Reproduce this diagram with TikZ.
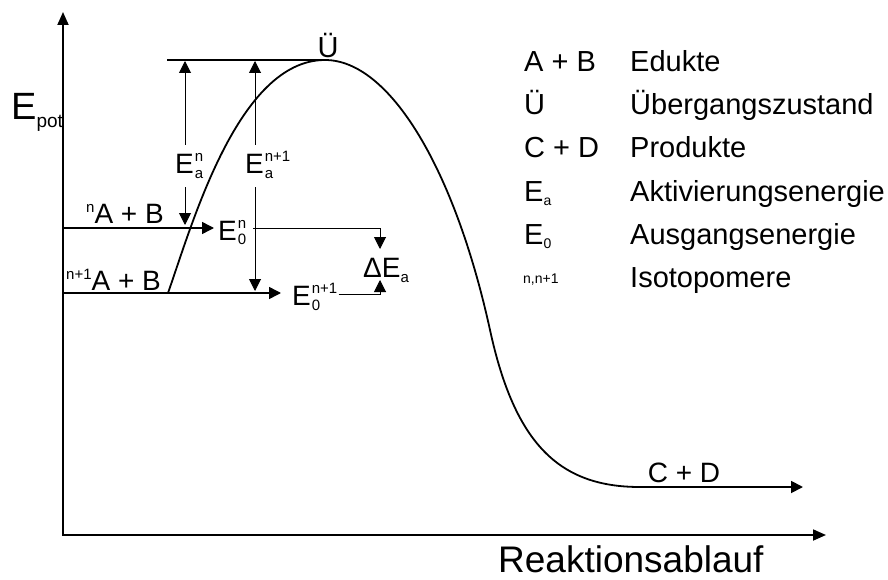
\documentclass[tikz,border=0pt]{standalone}
\usepackage{fontspec}
\setmainfont{Liberation Sans}
\usetikzlibrary{arrows.meta}

% font size helper (size = line skip)
\newcommand\fsz[1]{\fontsize{#1}{#1}\selectfont}
% stacked super-/subscript of zero width (label centred on its letter)
\newcommand\sszero[2]{\rlap{\fsz{15}\raisebox{12pt}{\smash{#1}}}\rlap{\fsz{15}\raisebox{-5pt}{\smash{#2}}}}
% stacked super-/subscript taking the width of the wider one
\newcommand\sswide[2]{\begingroup\fsz{15}\setbox0\hbox{#1}\setbox2\hbox{#2}%
  \ifdim\wd0>\wd2 \dimen0=\wd0 \else \dimen0=\wd2 \fi
  \rlap{\raisebox{12pt}{\smash{\box0}}}\rlap{\raisebox{-5pt}{\smash{\box2}}}\hspace*{\dimen0}\endgroup}

\tikzset{
  tipbig/.tip={Triangle[length=12pt,width=12pt]},
  axisln/.style={line width=1.8pt,-{Triangle[length=13pt,width=11pt]}},
  curveln/.style={line width=1.8pt},
  levelln/.style={line width=1.5pt,-tipbig},
  vertln/.style={line width=1pt,-tipbig},
  thinln/.style={line width=1pt,-tipbig},
  lbl/.style={inner sep=0pt,font=\fsz{28}},
  legkey/.style={inner sep=0pt,font=\fsz{29},anchor=base west},
}

\begin{document}
\begin{tikzpicture}[x=1pt,y=-1pt]
\useasboundingbox (0,0) rectangle (888,580);
\fill[white] (0,0) rectangle (888,580);

% axes, meeting in the origin corner
\coordinate (orig) at (63,535);
\coordinate (ytip) at (63,12);
\coordinate (xtip) at (826,535);
\draw[axisln] ([yshift=-0.9pt]orig) -- (ytip);
\draw[axisln] ([xshift=-0.9pt]orig) -- (xtip);
\node[anchor=base west,inner sep=0pt,font=\fsz{38}] (Epot) at (11,120) {E\raisebox{-8pt}{\fsz{19}pot}};
\node[anchor=base west,inner sep=0pt,font=\fsz{37}] (xlab) at (498,572) {Reaktionsablauf};

% reaction profile
\coordinate (start) at (168,293);
\coordinate (TS) at (325,60);
\coordinate (mid) at (490,330);
\coordinate (flat) at (640,487);
\coordinate (cdtip) at (803,487);
\draw[curveln,-tipbig] (start) .. controls (192,225) and (238,60) .. (TS)
  .. controls (390,60) and (455,170) .. (mid)
  .. controls (515,445) and (560,487) .. (flat) -- (cdtip);
\node[lbl,anchor=base] (CD) at (684,482) {C + D};
\node[lbl,anchor=base,font=\fsz{29}] (U) at (328,58) {Ü};
\coordinate (tsline) at (167,60);
\draw[line width=1.3pt] (tsline) -- (TS);

% starting levels of the two isotopomers
\coordinate (lvlN) at (63,228);
\coordinate (lvlN1) at (63,293);
\node[lbl,anchor=base west] (AB) at (86,223) {\raisebox{11pt}{\fsz{15}n}A + B};
\node[lbl,anchor=base west] (AB1) at (66,290) {\raisebox{11pt}{\fsz{15}n+1}A + B};

\node[lbl,anchor=base west,inner sep=1pt] (E0n) at (217,240) {E\kern1pt\sswide{n}{0}};
\node[lbl,anchor=base west,inner sep=1pt] (E0n1) at (291,305) {E\kern1pt\sswide{n+1}{0}};
\draw[levelln,shorten >=3pt] (lvlN) -- (E0n.west |- lvlN);
\draw[levelln,shorten >=10pt] (lvlN1) -- (E0n1.west |- lvlN1);

% activation energies
\node[lbl] (Ean) at (185,166) {E\kern1pt\sszero{n}{a}};
\node[lbl] (Ean1) at (255,166) {E\kern1pt\sszero{n+1}{a}};
\coordinate (topN) at (185,61);
\coordinate (botN) at (185,225);
\coordinate (topN1) at (255,61);
\coordinate (botN1) at (255,291);
\draw[vertln] ([yshift=9pt]Ean.north) -- (topN);
\draw[vertln] ([yshift=-9pt]Ean.south) -- (botN);
\draw[vertln] ([yshift=9pt]Ean1.north) -- (topN1);
\draw[vertln] ([yshift=-9pt]Ean1.south) -- (botN1);

% difference of the activation energies
\node[lbl,anchor=base west] (dEa) at (363,277) {ΔE\raisebox{-5pt}{\fsz{15}a}};
\coordinate (dN) at (380,228);
\coordinate (dNtip) at (380,249);
\coordinate (dS) at (380,294);
\coordinate (dStip) at (380,280);
\draw[thinln,shorten <=6pt] (E0n.east |- dN) -- (dN) -- (dNtip);
\draw[thinln] (E0n1.east |- dS) -- (dS) -- (dStip);

% legend
\node[legkey] (k1) at (524,72) {A + B};
\node[legkey] (v1) at (630,72) {Edukte};
\node[legkey] (k2) at (524,115) {Ü};
\node[legkey] (v2) at (630,115) {Übergangszustand};
\node[legkey] (k3) at (524,158) {C + D};
\node[legkey] (v3) at (630,158) {Produkte};
\node[legkey] (k4) at (524,201) {E\raisebox{-4pt}{\fsz{14}a}};
\node[legkey] (v4) at (630,201) {Aktivierungsenergie};
\node[legkey] (k5) at (524,244) {E\raisebox{-4pt}{\fsz{14}0}};
\node[legkey] (v5) at (630,244) {Ausgangsenergie};
\node[legkey,font=\fsz{14}] (k6) at (523,283) {n,n+1};
\node[legkey] (v6) at (630,287) {Isotopomere};
\end{tikzpicture}
\end{document}
